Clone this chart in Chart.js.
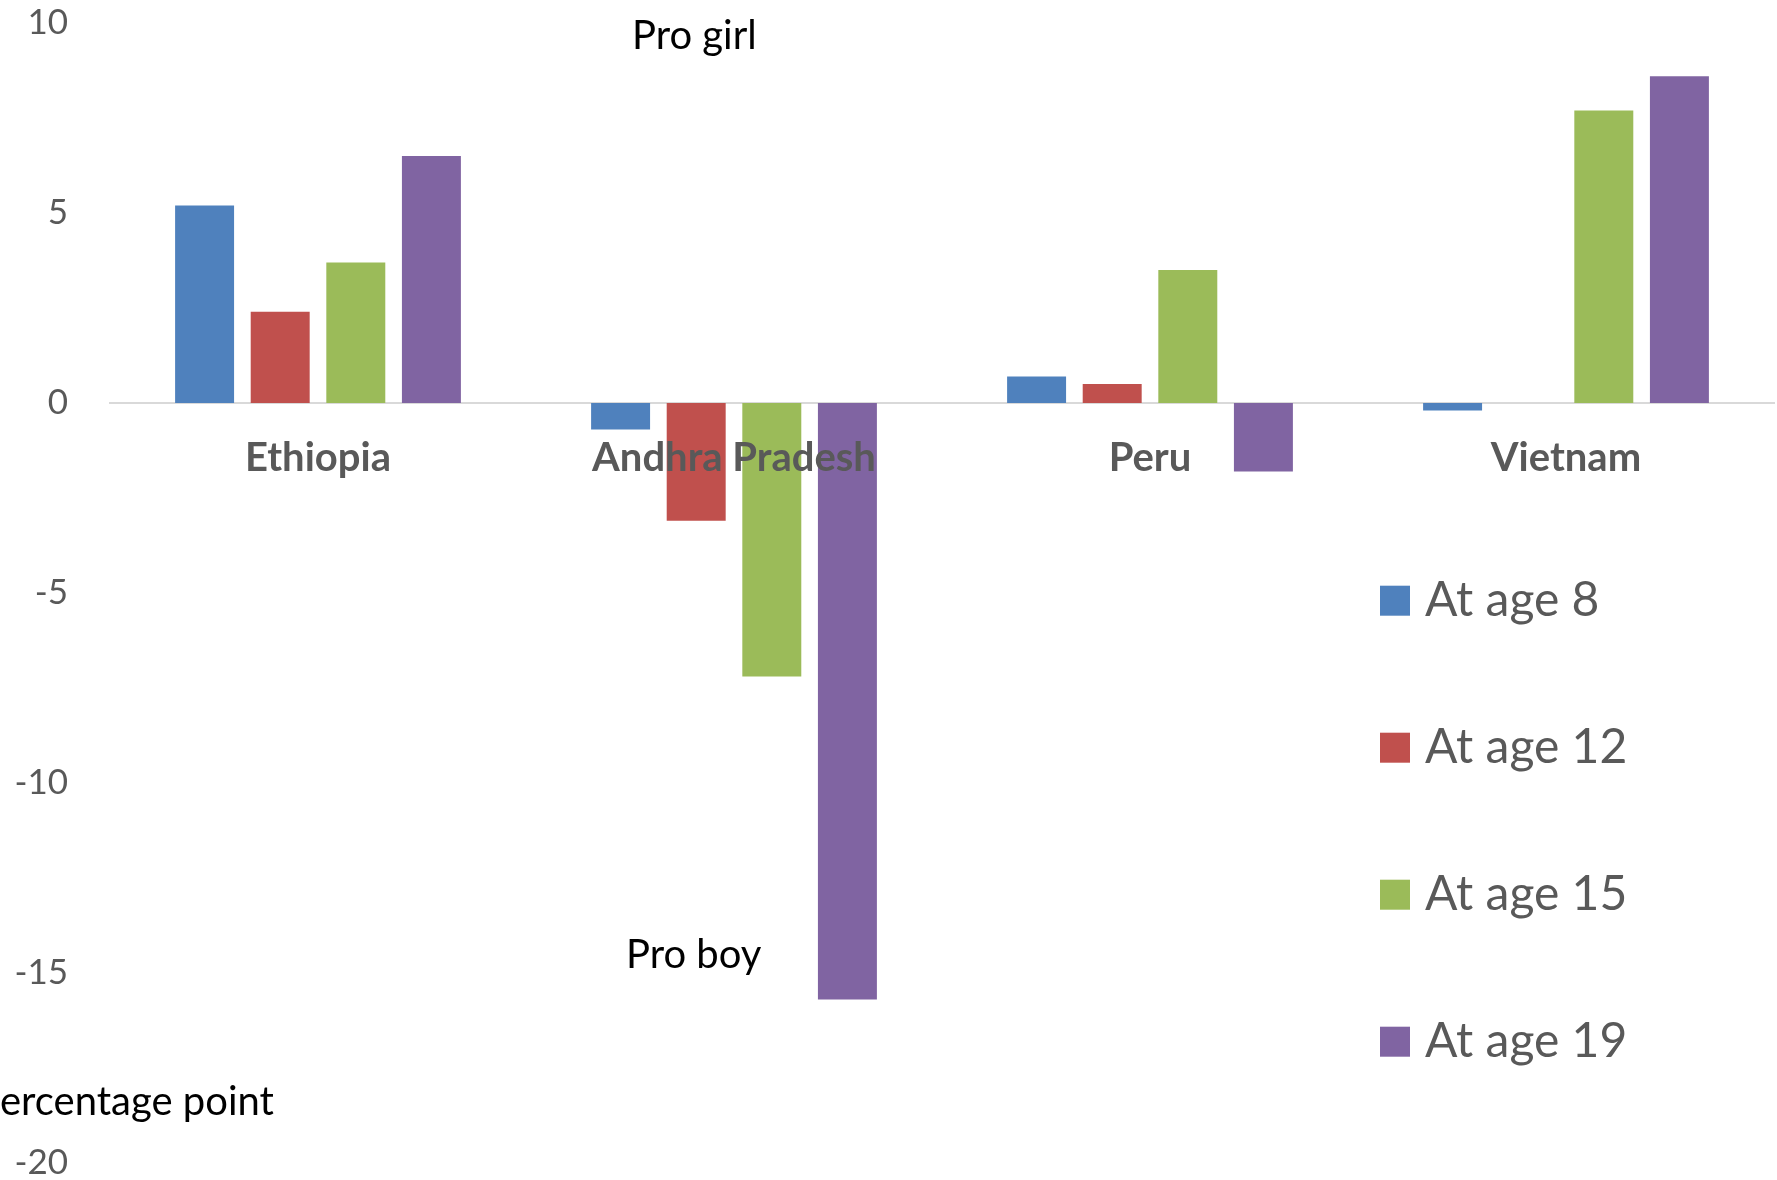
<!DOCTYPE html>
<html>
<head>
<meta charset="utf-8">
<script src="https://cdn.jsdelivr.net/npm/chart.js@4.4.1/dist/chart.umd.min.js"></script>
<style>
  html, body { margin: 0; padding: 0; background: #ffffff; overflow: hidden; }
  canvas { display: block; }
</style>
</head>
<body>
<canvas id="chart" width="1777" height="1180"></canvas>
<script>
// Gender gap by site and age, in percentage points (positive = pro girl)
const categories = ['Ethiopia', 'Andhra Pradesh', 'Peru', 'Vietnam'];
const seriesNames = ['At age 8', 'At age 12', 'At age 15', 'At age 19'];
const age8  = [5.2, -0.7, 0.7, -0.2];
const age12 = [2.4, -3.1, 0.5, null];
const age15 = [3.7, -7.2, 3.5, 7.7];
const age19 = [6.5, -15.7, -1.8, 8.6];
const yTicks = [10, 5, 0, -5, -10, -15, -20];

const seriesValues = [age8, age12, age15, age19];
const seriesColors = ['#4f81bd', '#c0504d', '#9bbb59', '#8064a2'];

const FONT = 'Lato, "Open Sans", "Liberation Sans", sans-serif';
const GREY = '#595959';

// Legend stacked vertically inside the plot, lower right
const sideLegend = {
  id: 'sideLegend',
  afterDraw(chart) {
    const ctx = chart.ctx;
    const boxX = 1380, firstY = 600.7, step = 147, boxW = 30, boxH = 30;
    ctx.save();
    ctx.font = '48px ' + FONT;
    ctx.textBaseline = 'alphabetic';
    ctx.textAlign = 'left';
    chart.data.datasets.forEach((ds, i) => {
      const cy = firstY + i * step;
      ctx.fillStyle = ds.backgroundColor;
      ctx.fillRect(boxX, cy - boxH / 2, boxW, boxH);
      ctx.fillStyle = GREY;
      ctx.fillText(ds.label, boxX + 45, cy + 15);
    });
    ctx.restore();
  }
};

// Free-standing notes around the plot
const notes = {
  id: 'notes',
  afterDraw(chart) {
    const ctx = chart.ctx;
    ctx.save();
    ctx.fillStyle = '#000000';
    ctx.textAlign = 'left';
    ctx.textBaseline = 'alphabetic';
    ctx.font = '40px ' + FONT;
    ctx.fillText('Pro girl', 632, 49);
    ctx.fillText('Pro boy', 626, 968);
    ctx.fillText('ercentage point', 0, 1115);
    ctx.restore();
  }
};

new Chart(document.getElementById('chart'), {
  type: 'bar',
  data: {
    labels: categories,
    datasets: seriesNames.map((name, i) => ({
      label: name,
      data: seriesValues[i],
      backgroundColor: seriesColors[i],
      borderWidth: 0,
      categoryPercentage: 0.727,
      barPercentage: 0.78
    }))
  },
  options: {
    responsive: false,
    animation: false,
    devicePixelRatio: 1,
    layout: { padding: { top: 23, bottom: 17, left: 0, right: 3 } },
    plugins: {
      legend: { display: false },
      tooltip: { enabled: false },
      title: { display: false }
    },
    scales: {
      x: {
        position: { y: 0 },
        grid: { display: false, drawTicks: false },
        border: { display: true, color: '#d9d9d9', width: 2 },
        ticks: {
          z: 1,
          color: GREY,
          padding: 31,
          maxRotation: 0,
          autoSkip: false,
          font: { family: FONT, size: 40, weight: 'bold' }
        }
      },
      y: {
        min: -20,
        max: 10,
        afterBuildTicks: (scale) => { scale.ticks = yTicks.map(v => ({ value: v })); },
        afterFit: (scale) => { scale.width = 110; scale.paddingTop = 0; scale.paddingBottom = 0; },
        grid: { display: false, drawTicks: false },
        border: { display: false },
        ticks: {
          color: GREY,
          padding: 42,
          font: { family: FONT, size: 35 }
        }
      }
    }
  },
  plugins: [sideLegend, notes]
});
</script>
</body>
</html>
